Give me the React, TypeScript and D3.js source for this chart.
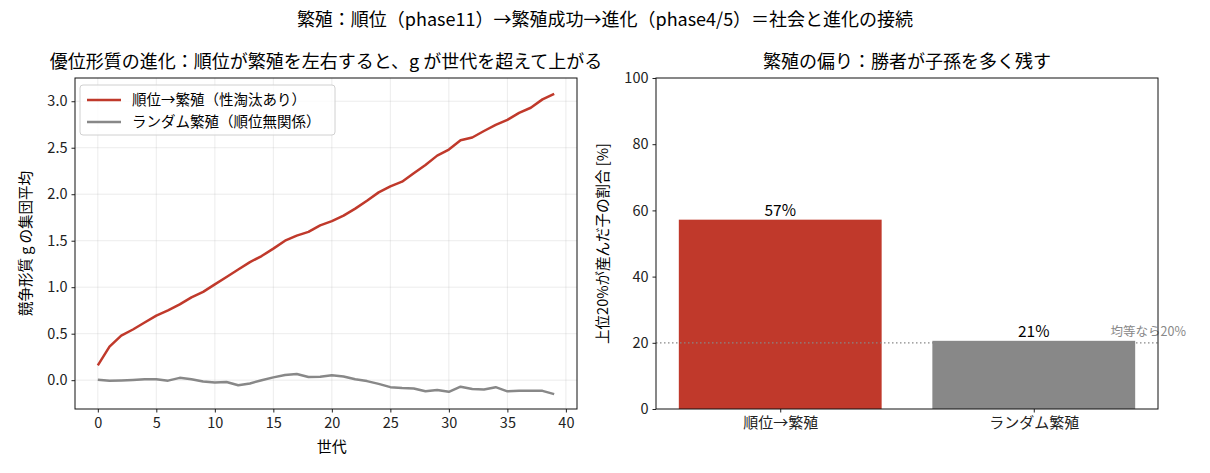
/* eslint-disable */
import React, { useEffect, useRef } from 'react';
import * as d3 from 'd3';

const generations = d3.range(0, 40);
const rankSeries = [
  0.16, 0.36, 0.48, 0.545, 0.62, 0.695, 0.75, 0.815, 0.89, 0.95,
  1.03, 1.11, 1.19, 1.27, 1.335, 1.415, 1.5, 1.555, 1.595, 1.665,
  1.71, 1.77, 1.845, 1.93, 2.02, 2.085, 2.135, 2.225, 2.315, 2.415,
  2.48, 2.58, 2.61, 2.68, 2.745, 2.8, 2.875, 2.93, 3.02, 3.08,
];
const randomSeries = [
  0.005, -0.007, -0.003, 0.003, 0.01, 0.01, -0.005, 0.025, 0.01, -0.015,
  -0.025, -0.02, -0.055, -0.035, 0.0, 0.03, 0.055, 0.066, 0.034, 0.038,
  0.052, 0.04, 0.01, -0.01, -0.04, -0.075, -0.085, -0.09, -0.12, -0.105,
  -0.125, -0.07, -0.095, -0.1, -0.075, -0.12, -0.115, -0.115, -0.115, -0.15,
];
const seriesNames = ['順位→繁殖（性淘汰あり）', 'ランダム繁殖（順位無関係）'];
const barCategories = ['順位→繁殖', 'ランダム繁殖'];
const barValues = [57.2, 20.6];
const barLabels = ['57%', '21%'];
const equalShare = 20;

const RED = '#c0392b';
const GREY = '#888888';
const FONT = '"Noto Sans CJK JP", "Noto Sans", sans-serif';

export default function App() {
  const ref = useRef<SVGSVGElement>(null);

  useEffect(() => {
    const svg = d3.select(ref.current);
    svg.selectAll('*').remove();
    svg.style('font-family', FONT);

    // ------- Suptitle -------
    svg.append('text')
      .attr('x', 605).attr('y', 26)
      .attr('text-anchor', 'middle')
      .attr('font-size', 18)
      .text('繁殖：順位（phase11）→繁殖成功→進化（phase4/5）＝社会と進化の接続');

    // ================= Left panel =================
    const L = { left: 75, right: 577, top: 78, bottom: 409 };
    const x = d3.scaleLinear().domain([-1.95, 40.95]).range([L.left, L.right]);
    const y = d3.scaleLinear().domain([-0.31, 3.25]).range([L.bottom, L.top]);
    const left = svg.append('g');

    const xTicks = [0, 5, 10, 15, 20, 25, 30, 35, 40];
    const yTicks = [0, 0.5, 1, 1.5, 2, 2.5, 3];

    // grid
    left.append('g').selectAll('line').data(xTicks).enter().append('line')
      .attr('x1', (d) => x(d)).attr('x2', (d) => x(d))
      .attr('y1', L.top).attr('y2', L.bottom)
      .attr('stroke', '#b0b0b0').attr('stroke-opacity', 0.3).attr('stroke-width', 0.8);
    left.append('g').selectAll('line').data(yTicks).enter().append('line')
      .attr('x1', L.left).attr('x2', L.right)
      .attr('y1', (d) => y(d)).attr('y2', (d) => y(d))
      .attr('stroke', '#b0b0b0').attr('stroke-opacity', 0.3).attr('stroke-width', 0.8);

    const xAxis = left.append('g')
      .attr('transform', `translate(0,${L.bottom})`)
      .call(d3.axisBottom(x).tickValues(xTicks).tickSize(3.5).tickPadding(5).tickFormat(d3.format('d')));
    const yAxis = left.append('g')
      .attr('transform', `translate(${L.left},0)`)
      .call(d3.axisLeft(y).tickValues(yTicks).tickSize(3.5).tickPadding(4).tickFormat(d3.format('.1f')));
    [xAxis, yAxis].forEach((a) => {
      a.select('.domain').remove();
      a.selectAll('text').attr('font-size', 14.5).attr('font-family', FONT).attr('fill', '#222');
      a.selectAll('line').attr('stroke', '#222');
    });

    const line = d3.line<number>()
      .x((_, i) => x(generations[i]))
      .y((d) => y(d));

    left.append('path').datum(randomSeries)
      .attr('fill', 'none').attr('stroke', GREY).attr('stroke-width', 2.5)
      .attr('stroke-linejoin', 'round').attr('d', line);
    left.append('path').datum(rankSeries)
      .attr('fill', 'none').attr('stroke', RED).attr('stroke-width', 2.5)
      .attr('stroke-linejoin', 'round').attr('d', line);

    left.append('rect')
      .attr('x', L.left).attr('y', L.top)
      .attr('width', L.right - L.left).attr('height', L.bottom - L.top)
      .attr('fill', 'none').attr('stroke', '#111').attr('stroke-width', 1);

    left.append('text')
      .attr('x', (L.left + L.right) / 2).attr('y', 68)
      .attr('text-anchor', 'middle').attr('font-size', 18)
      .text('優位形質の進化：順位が繁殖を左右すると、g が世代を超えて上がる');
    left.append('text')
      .attr('x', x(20)).attr('y', 452)
      .attr('text-anchor', 'middle').attr('font-size', 15)
      .text('世代');
    left.append('text')
      .attr('transform', `translate(31,${(L.top + L.bottom) / 2}) rotate(-90)`)
      .attr('text-anchor', 'middle').attr('font-size', 14.5)
      .text('競争形質 g の集団平均');

    // legend
    const legend = left.append('g').attr('transform', 'translate(80,85)');
    legend.append('rect')
      .attr('width', 255).attr('height', 50).attr('rx', 3)
      .attr('fill', 'white').attr('fill-opacity', 0.8)
      .attr('stroke', '#d0d0d0');
    [RED, GREY].forEach((c, i) => {
      legend.append('line')
        .attr('x1', 7).attr('x2', 41)
        .attr('y1', 15 + i * 22).attr('y2', 15 + i * 22)
        .attr('stroke', c).attr('stroke-width', 2.5);
      legend.append('text')
        .attr('x', 52).attr('y', 15 + i * 22).attr('dy', '0.35em')
        .attr('font-size', 14.5)
        .text(seriesNames[i]);
    });

    // ================= Right panel =================
    const R = { left: 656, right: 1158, top: 78, bottom: 409 };
    const xb = d3.scaleLinear().domain([-0.49, 1.49]).range([R.left, R.right]);
    const yb = d3.scaleLinear().domain([0, 100]).range([R.bottom, R.top]);
    const right = svg.append('g');
    const bw = xb(0.4) - xb(-0.4);

    right.selectAll('rect.bar').data(barValues).enter().append('rect')
      .attr('class', 'bar')
      .attr('x', (_, i) => xb(i) - bw / 2)
      .attr('y', (d) => yb(d))
      .attr('width', bw)
      .attr('height', (d) => yb(0) - yb(d))
      .attr('fill', (_, i) => (i === 0 ? RED : GREY));

    right.selectAll('text.val').data(barValues).enter().append('text')
      .attr('class', 'val')
      .attr('x', (_, i) => xb(i))
      .attr('y', (d) => yb(d) - 4)
      .attr('text-anchor', 'middle').attr('font-size', 15.5)
      .text((_, i) => barLabels[i]);

    right.append('line')
      .attr('x1', R.left).attr('x2', R.right)
      .attr('y1', yb(equalShare)).attr('y2', yb(equalShare))
      .attr('stroke', GREY).attr('stroke-width', 1.2)
      .attr('stroke-dasharray', '1.5,2.5');
    right.append('text')
      .attr('x', 1186).attr('y', yb(equalShare) - 7)
      .attr('text-anchor', 'end').attr('font-size', 12.5)
      .attr('fill', GREY)
      .text('均等なら20%');

    const xbAxis = right.append('g')
      .attr('transform', `translate(0,${R.bottom})`)
      .call(d3.axisBottom(xb).tickValues([0, 1]).tickSize(3.5).tickPadding(5)
        .tickFormat((d) => barCategories[+d]));
    const ybAxis = right.append('g')
      .attr('transform', `translate(${R.left},0)`)
      .call(d3.axisLeft(yb).tickValues([0, 20, 40, 60, 80, 100]).tickSize(3.5).tickPadding(4));
    [xbAxis, ybAxis].forEach((a) => {
      a.select('.domain').remove();
      a.selectAll('text').attr('font-size', 14.5).attr('font-family', FONT).attr('fill', '#222');
      a.selectAll('line').attr('stroke', '#222');
    });
    xbAxis.selectAll('text').attr('font-size', 15);

    right.append('rect')
      .attr('x', R.left).attr('y', R.top)
      .attr('width', R.right - R.left).attr('height', R.bottom - R.top)
      .attr('fill', 'none').attr('stroke', '#111').attr('stroke-width', 1);

    right.append('text')
      .attr('x', (R.left + R.right) / 2).attr('y', 68)
      .attr('text-anchor', 'middle').attr('font-size', 18)
      .text('繁殖の偏り：勝者が子孫を多く残す');
    right.append('text')
      .attr('transform', `translate(608,${(R.top + R.bottom) / 2}) rotate(-90)`)
      .attr('text-anchor', 'middle').attr('font-size', 14.5)
      .text('上位20%が産んだ子の割合 [%]');
  }, []);

  return (
    <svg
      ref={ref}
      width={1210}
      height={473}
      style={{ position: 'absolute', left: 0, top: 0, background: 'white' }}
    />
  );
}
